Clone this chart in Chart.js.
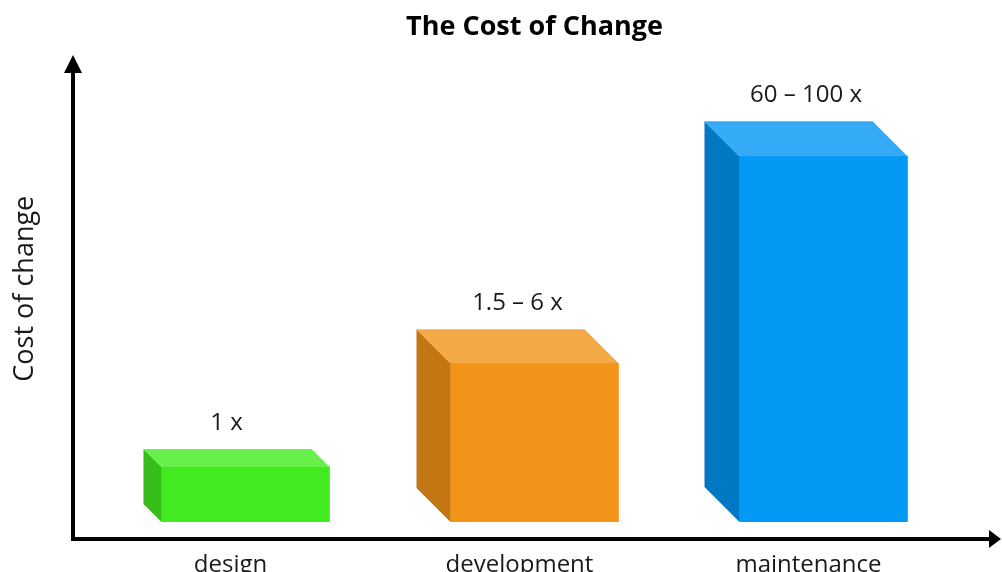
<!DOCTYPE html>
<html>
<head>
<meta charset="utf-8">
<script src="https://cdn.jsdelivr.net/npm/chart.js@4.4.1/dist/chart.umd.min.js"></script>
<style>
  html, body { margin: 0; padding: 0; background: #fff; }
  #wrap { width: 1002px; height: 572px; }
</style>
</head>
<body>
<div id="wrap"><canvas id="costChart" width="1002" height="572"></canvas></div>
<script>
const phases = ['design', 'development', 'maintenance'];
const costLabels = ['1 x', '1.5 – 6 x', '60 – 100 x'];
const relativeCost = [11.8, 34.0, 78.4];

// face colours of each box: front / top / left side
const frontColors = ['#42eb20', '#f2941a', '#0399f5'];
const topColors = ['#66f049', '#f4a947', '#35abf7'];
const sideColors = ['#36bd1a', '#c27713', '#0277c4'];
const depths = [18, 34, 35];

Chart.defaults.font.family = '"Open Sans", sans-serif';
Chart.defaults.color = '#1a1a1a';

const boxPlugin = {
    id: 'boxes',
    afterDatasetsDraw(chart) {
        const ctx = chart.ctx;
        const meta = chart.getDatasetMeta(0);
        meta.data.forEach((bar, i) => {
            const { x, y, base, width } = bar.getProps(['x', 'y', 'base', 'width'], true);
            const l = x - width / 2;
            const r = x + width / 2;
            const d = depths[i];
            ctx.save();
            // left side
            ctx.fillStyle = sideColors[i];
            ctx.beginPath();
            ctx.moveTo(l, y);
            ctx.lineTo(l - d, y - d);
            ctx.lineTo(l - d, base - d);
            ctx.lineTo(l, base);
            ctx.closePath();
            ctx.fill();
            // top
            ctx.fillStyle = topColors[i];
            ctx.beginPath();
            ctx.moveTo(l, y);
            ctx.lineTo(l - d, y - d);
            ctx.lineTo(r - d, y - d);
            ctx.lineTo(r, y);
            ctx.closePath();
            ctx.fill();
            // value text
            ctx.fillStyle = '#1a1a1a';
            ctx.font = '24px "Open Sans", sans-serif';
            ctx.textAlign = 'center';
            ctx.textBaseline = 'middle';
            ctx.fillText(costLabels[i], x - d / 2 - (i === 0 ? 10 : 0), y - d - 26);
            ctx.restore();
        });
    },
    afterDraw(chart) {
        const { ctx, chartArea } = chart;
        const ax = chartArea.left - 28;
        const ay = chartArea.bottom + 17;
        ctx.save();
        ctx.strokeStyle = '#000';
        ctx.fillStyle = '#000';
        ctx.lineWidth = 4;
        ctx.beginPath();
        ctx.moveTo(ax, ay + 2);
        ctx.lineTo(ax, 70);
        ctx.moveTo(ax - 2, ay);
        ctx.lineTo(990, ay);
        ctx.stroke();
        // arrow heads
        ctx.beginPath();
        ctx.moveTo(ax, 55);
        ctx.lineTo(ax + 9, 73);
        ctx.lineTo(ax - 9, 73);
        ctx.closePath();
        ctx.fill();
        ctx.beginPath();
        ctx.moveTo(1001, ay);
        ctx.lineTo(989, ay - 9);
        ctx.lineTo(989, ay + 9);
        ctx.closePath();
        ctx.fill();
        ctx.restore();
    }
};

new Chart(document.getElementById('costChart'), {
    type: 'bar',
    data: {
        labels: phases,
        datasets: [{
            label: 'Cost of change',
            data: relativeCost,
            backgroundColor: frontColors,
            borderWidth: 0,
            barThickness: 168
        }]
    },
    options: {
        responsive: false,
        animation: false,
        layout: {
            padding: { left: 0, right: 34, top: 0, bottom: 0 }
        },
        plugins: {
            legend: { display: false },
            tooltip: { enabled: false },
            title: {
                display: true,
                fullSize: false,
                text: 'The Cost of Change',
                color: '#000',
                font: { size: 27, weight: 'bold' },
                padding: { top: 11, bottom: 12 }
            }
        },
        scales: {
            x: {
                grid: { display: false },
                border: { display: false },
                ticks: {
                    font: { size: 24 },
                    padding: 21,
                    labelOffset: -15
                },
                afterFit(scale) { scale.height = 50; }
            },
            y: {
                min: 0,
                max: 100,
                grid: { display: false },
                border: { display: false },
                ticks: { display: false },
                title: {
                    display: true,
                    text: 'Cost of change',
                    font: { size: 27 },
                    padding: { top: 9, bottom: 10 }
                },
                afterFit(scale) { scale.width = 101; }
            }
        }
    },
    plugins: [boxPlugin]
});
</script>
</body>
</html>
